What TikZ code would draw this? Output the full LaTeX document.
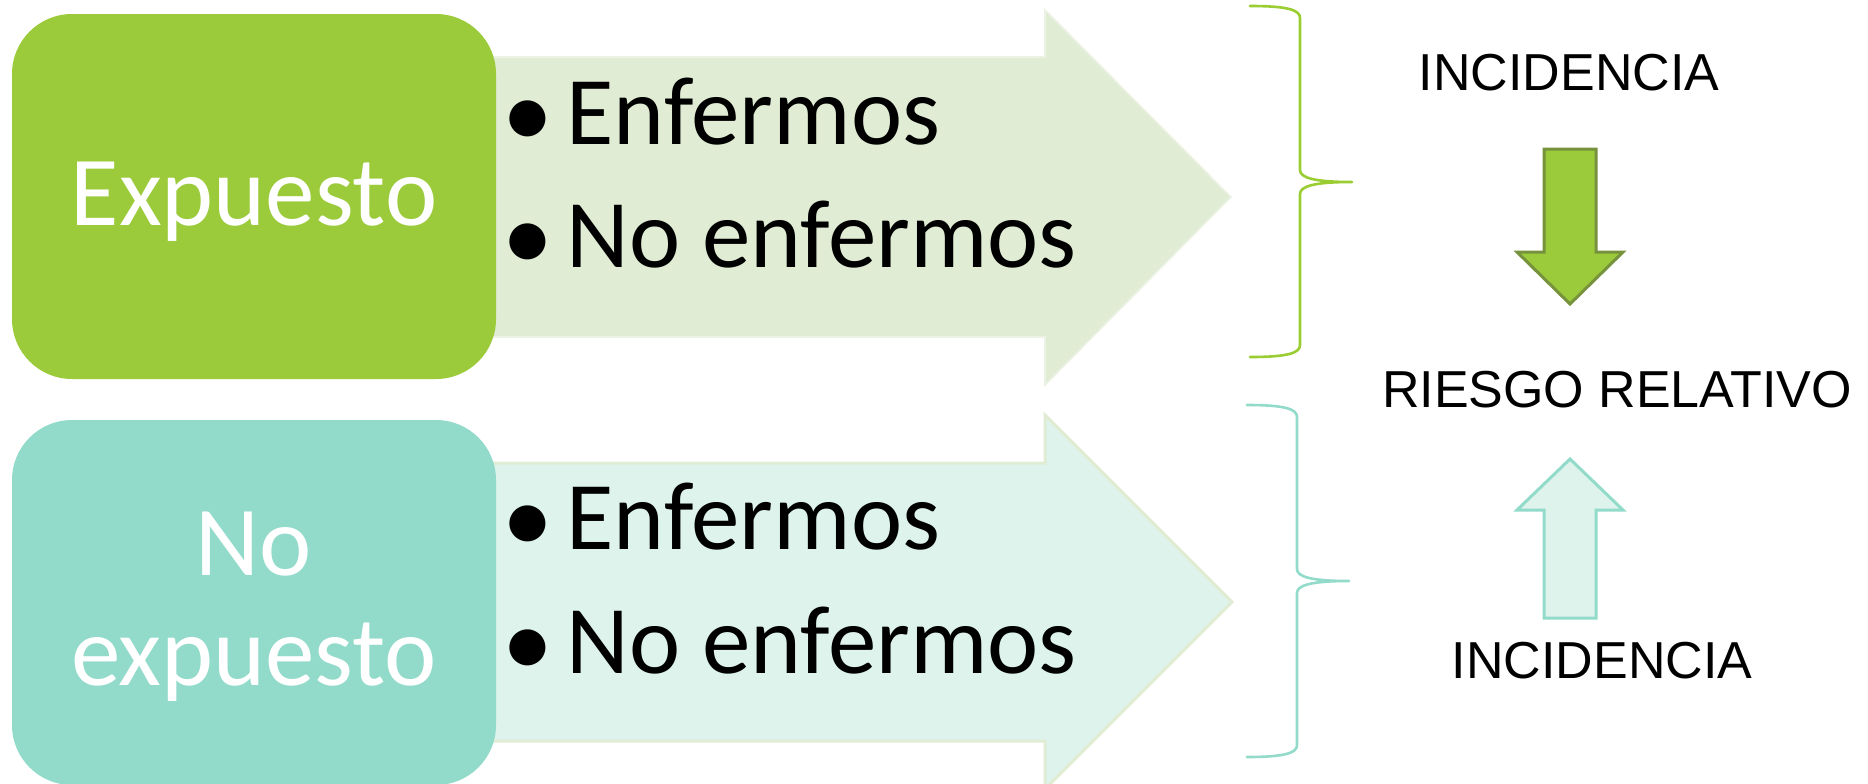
\documentclass[tikz,border=0pt]{standalone}
\usepackage{fontspec}
\setmainfont{Carlito}
\newfontfamily\arialf{Liberation Sans}
\definecolor{gbox}{RGB}{155,203,59}
\definecolor{garrow}{RGB}{224,236,212}
\definecolor{gedge}{RGB}{236,243,229}
\definecolor{tbox}{RGB}{146,219,202}
\definecolor{tarrow}{RGB}{221,243,236}
\definecolor{gdark}{RGB}{118,146,60}
\definecolor{gbrace}{RGB}{154,205,50}
\begin{document}
\begin{tikzpicture}[x=0.5pt,y=-0.5pt,
  boxlbl/.style={font=\fontsize{49.5}{55}\selectfont, text=white, inner sep=0pt, anchor=base},
  itemlbl/.style={font=\fontsize{48.5}{55}\selectfont, text=black, inner sep=0pt, anchor=base west},
  bulletlbl/.style={font=\fontsize{51}{60}\selectfont, text=black, inner sep=0pt, anchor=center},
  sidelbl/.style={font=\arialf\fontsize{26}{30}\selectfont, text=black, inner sep=0pt, anchor=base},
  bracestyle/.style={line width=1.3pt, line cap=round, line join=round}]
\useasboundingbox (0,0) rectangle (1868,783);
\clip (0,0) rectangle (1868,783);
% big arrows
\filldraw[fill=garrow, draw=gedge, line width=0.8pt]
  (420,57) -- (1045,57) -- (1045,10) -- (1231,197) -- (1045,385) -- (1045,337) -- (420,337) -- cycle;
\filldraw[fill=tarrow, draw=garrow, line width=1.5pt]
  (420,463) -- (1045,463) -- (1045,415) -- (1232,602) -- (1045,789) -- (1045,741) -- (420,741) -- cycle;
% boxes
\fill[gbox, rounded corners=30pt] (12,14) rectangle (496,379);
\fill[tbox, rounded corners=30pt] (12,420) rectangle (496,785);
% box labels
\node[boxlbl] (expl) at (254,225) {Expuesto};
\node[boxlbl] (noexpa) at (254,575) {No};
\node[boxlbl] (noexpb) at (254,685) {expuesto};
% bullets and items
\node[bulletlbl] (b1) at (528,124) {•};
\node[itemlbl] (i1) at (566,144) {Enfermos};
\node[bulletlbl] (b2) at (528,247) {•};
\node[itemlbl] (i2) at (566,267) {No enfermos};
\node[bulletlbl] (b3) at (528,529) {•};
\node[itemlbl] (i3) at (566,549) {Enfermos};
\node[bulletlbl] (b4) at (528,653) {•};
\node[itemlbl] (i4) at (566,673) {No enfermos};
% braces
\draw[bracestyle, draw=gbrace]
  (1250,6) .. controls (1288,6) and (1300,10) .. (1300,18) -- (1300,170)
  .. controls (1300,178) and (1315,182) .. (1352,182)
  .. controls (1315,182) and (1300,186) .. (1300,194) -- (1300,345)
  .. controls (1300,353) and (1288,357) .. (1250,357);
\draw[bracestyle, draw=tbox]
  (1247,405) .. controls (1285,405) and (1297,409) .. (1297,417) -- (1297,569)
  .. controls (1297,577) and (1312,581) .. (1349,581)
  .. controls (1312,581) and (1297,585) .. (1297,593) -- (1297,745)
  .. controls (1297,753) and (1285,757) .. (1247,757);
% small arrows
\filldraw[fill=gbox, draw=gdark, line width=1.5pt]
  (1544,149) -- (1596,149) -- (1596,252) -- (1623,252) -- (1570,304) -- (1517,252) -- (1544,252) -- cycle;
\filldraw[fill=tarrow, draw=tbox, line width=1.5pt]
  (1544,618) -- (1596,618) -- (1596,510) -- (1623,510) -- (1570,459) -- (1517,510) -- (1544,510) -- cycle;
% side labels
\node[sidelbl] (inc1) at (1569,90) {INCIDENCIA};
\node[sidelbl] (rr) at (1617,407) {RIESGO RELATIVO};
\node[sidelbl] (inc2) at (1602,678) {INCIDENCIA};
\end{tikzpicture}
\end{document}
